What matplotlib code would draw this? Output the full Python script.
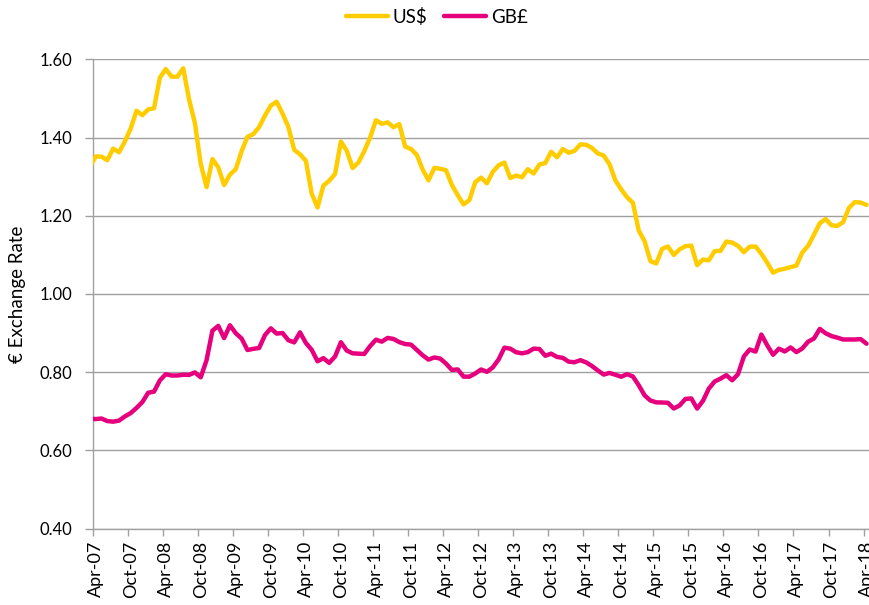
import numpy as np
import matplotlib
matplotlib.use("Agg")
import matplotlib.pyplot as plt
from matplotlib.lines import Line2D

plt.rcParams['font.family'] = ['Lato', 'DejaVu Sans']

# Monthly € exchange rates, Mar-07 .. Apr-18 (first month sits just left of the axis)
usd = [1.3242, 1.3516, 1.3511, 1.3419, 1.3716, 1.3622, 1.3896, 1.4227, 1.4684, 1.4570,
       1.4718, 1.4748, 1.5527, 1.5751, 1.5557, 1.5553, 1.5770, 1.4975, 1.4370, 1.3322, 1.2732, 1.3449,
       1.3239, 1.2785, 1.3050, 1.3190, 1.3650, 1.4016, 1.4088, 1.4268, 1.4562, 1.4816, 1.4914, 1.4614,
       1.4272, 1.3686, 1.3569, 1.3406, 1.2565, 1.2209, 1.2770, 1.2894, 1.3067, 1.3898, 1.3661, 1.3220,
       1.3360, 1.3649, 1.3999, 1.4442, 1.4349, 1.4388, 1.4264, 1.4343, 1.3770, 1.3706, 1.3556, 1.3179,
       1.2905, 1.3224, 1.3201, 1.3162, 1.2789, 1.2526, 1.2288, 1.2400, 1.2856, 1.2974, 1.2828, 1.3119,
       1.3288, 1.3359, 1.2964, 1.3026, 1.2982, 1.3189, 1.3080, 1.3310, 1.3348, 1.3635, 1.3493, 1.3704,
       1.3610, 1.3659, 1.3823, 1.3813, 1.3732, 1.3592, 1.3539, 1.3316, 1.2901, 1.2673, 1.2472, 1.2331,
       1.1621, 1.1350, 1.0838, 1.0779, 1.1150, 1.1213, 1.0996, 1.1139, 1.1221, 1.1235, 1.0736, 1.0877,
       1.0860, 1.1093, 1.1100, 1.1339, 1.1311, 1.1229, 1.1069, 1.1208, 1.1212, 1.1026, 1.0799, 1.0543,
       1.0614, 1.0643, 1.0685, 1.0723, 1.1058, 1.1229, 1.1511, 1.1807, 1.1915, 1.1756, 1.1738, 1.1836,
       1.2200, 1.2348, 1.2336, 1.2276]

gbp = [0.6817, 0.6798, 0.6813, 0.6748, 0.6732, 0.6759, 0.6865, 0.6952, 0.7083, 0.7233,
       0.7472, 0.7501, 0.7787, 0.7946, 0.7912, 0.7913, 0.7931, 0.7928, 0.7992, 0.7867, 0.8306, 0.9060,
       0.9182, 0.8869, 0.9197, 0.8994, 0.8858, 0.8565, 0.8595, 0.8617, 0.8947, 0.9119, 0.8985, 0.9000,
       0.8815, 0.8760, 0.9016, 0.8746, 0.8571, 0.8277, 0.8357, 0.8236, 0.8399, 0.8764, 0.8551, 0.8481,
       0.8471, 0.8464, 0.8665, 0.8829, 0.8779, 0.8874, 0.8848, 0.8767, 0.8717, 0.8704, 0.8567, 0.8430,
       0.8320, 0.8375, 0.8346, 0.8217, 0.8055, 0.8068, 0.7884, 0.7883, 0.7965, 0.8067, 0.8007, 0.8118,
       0.8322, 0.8625, 0.8600, 0.8508, 0.8480, 0.8510, 0.8600, 0.8590, 0.8417, 0.8472, 0.8388, 0.8364,
       0.8267, 0.8251, 0.8305, 0.8248, 0.8154, 0.8041, 0.7937, 0.7979, 0.7932, 0.7882, 0.7947, 0.7888,
       0.7663, 0.7406, 0.7273, 0.7226, 0.7222, 0.7215, 0.7069, 0.7147, 0.7314, 0.7326, 0.7068, 0.7266,
       0.7578, 0.7759, 0.7832, 0.7921, 0.7791, 0.7948, 0.8400, 0.8578, 0.8525, 0.8960, 0.8686, 0.8443,
       0.8600, 0.8527, 0.8631, 0.8511, 0.8603, 0.8778, 0.8858, 0.9105, 0.8993, 0.8922, 0.8881, 0.8834,
       0.8835, 0.8834, 0.8844, 0.8726]

tick_labels = ['Apr-07', 'Oct-07', 'Apr-08', 'Oct-08', 'Apr-09', 'Oct-09', 'Apr-10', 'Oct-10',
               'Apr-11', 'Oct-11', 'Apr-12', 'Oct-12', 'Apr-13', 'Oct-13', 'Apr-14', 'Oct-14',
               'Apr-15', 'Oct-15', 'Apr-16', 'Oct-16', 'Apr-17', 'Oct-17', 'Apr-18']
y_ticks = [0.40, 0.60, 0.80, 1.00, 1.20, 1.40, 1.60]

series_names = ['US$', 'GB£']
colors = ['#FFCC00', '#E6007E']

x = np.arange(len(usd)) - 1  # Apr-07 -> 0

fig = plt.figure(figsize=(8.70, 6.05), dpi=100)
ax = fig.add_axes([92.7 / 870, (605 - 528.5) / 605, (870 - 92.7) / 870, (528.5 - 59.3) / 605])

grid_c = '#A0A0A0'
for yv in y_ticks:
    ax.axhline(yv, color=grid_c, lw=1.0, zorder=1)

for vals, c, name in zip([usd, gbp], colors, series_names):
    ax.plot(x, vals, color=c, lw=3.2, solid_joinstyle='round', solid_capstyle='round',
            zorder=3, label=name)

ax.set_xlim(-0.5, -0.5 + 777.3 / 5.84)
ax.set_ylim(0.40, 1.60)

maj = [6 * k - 0.5 for k in range(len(tick_labels))]
ax.set_xticks(maj)
ax.set_xticklabels([''] * len(maj))
ax.set_xticks([6 * k for k in range(len(tick_labels))], minor=True)
ax.set_xticklabels(tick_labels, minor=True, rotation=90, fontsize=13)
ax.tick_params(axis='x', which='major', length=5, width=1.0, color=grid_c)
ax.tick_params(axis='x', which='minor', length=0, pad=9)

ax.set_yticks(y_ticks)
ax.set_yticklabels([f'{v:.2f}' for v in y_ticks], fontsize=12)
ax.tick_params(axis='y', length=6, width=1.0, color=grid_c, pad=9)

for s in ['top', 'right']:
    ax.spines[s].set_visible(False)
for s in ['left', 'bottom']:
    ax.spines[s].set_color(grid_c)
    ax.spines[s].set_linewidth(1.0)

ax.set_ylabel('€ Exchange Rate', fontsize=13.5)
ax.yaxis.set_label_coords(-0.086, 0.5)

handles = [Line2D([0], [0], color=c, lw=3.2, solid_capstyle='round') for c in colors]
fig.legend(handles, series_names, loc='center', bbox_to_anchor=(0.502, 1 - 17 / 605), ncol=2,
           frameon=False, fontsize=13.5, handlelength=2.25, handletextpad=0.25, columnspacing=0.9)

fig.savefig('out.png', dpi=100)
